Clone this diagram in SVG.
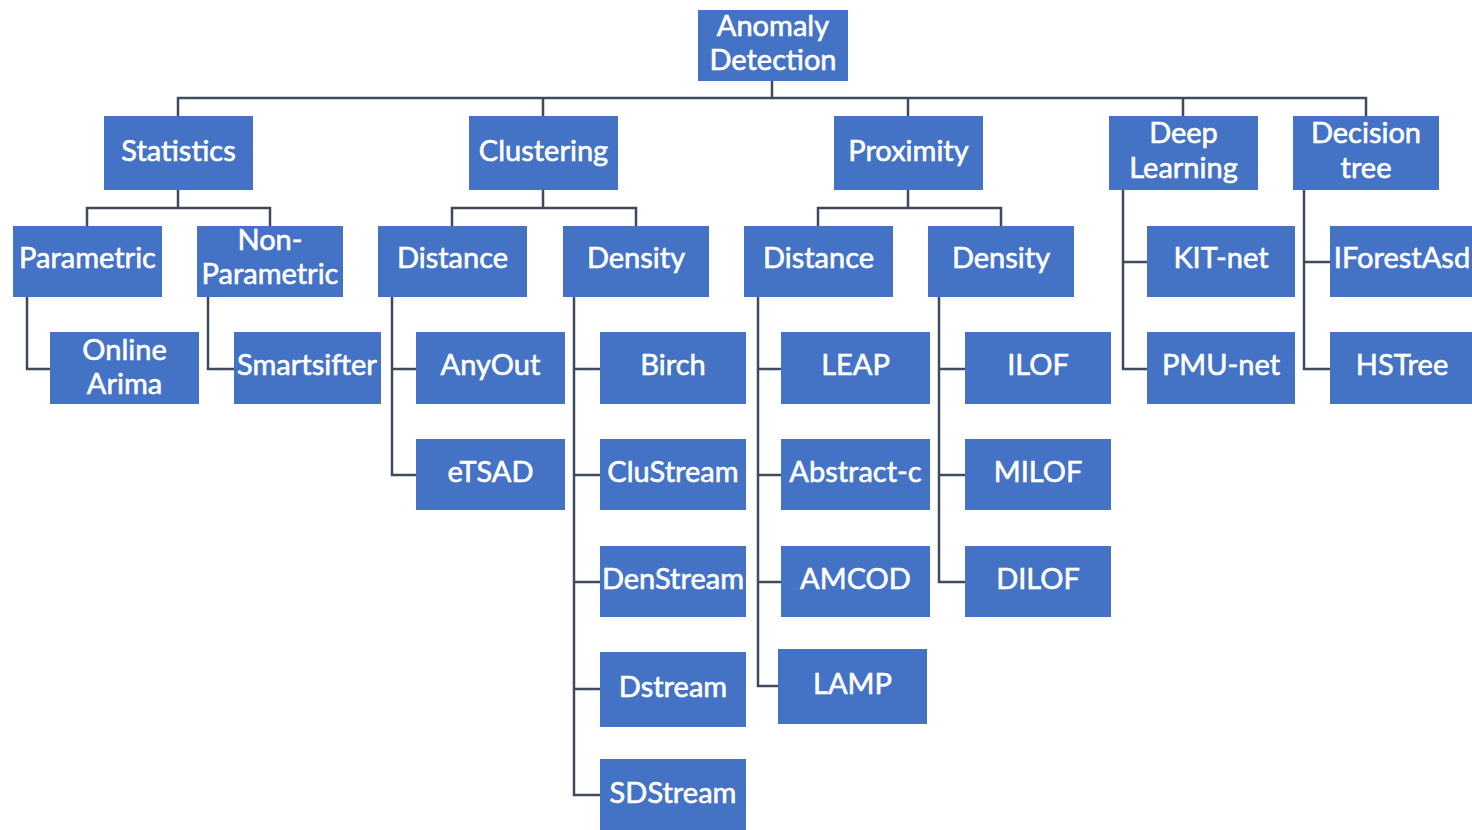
<svg xmlns="http://www.w3.org/2000/svg" width="1472" height="830" viewBox="0 0 1472 830">
<style>
.n rect{fill:#4472C4;}
.n text{fill:#FFFFFF;stroke:#FFFFFF;stroke-width:0.6;font-family:Lato,"Open Sans","Liberation Sans",sans-serif;font-size:29px;text-anchor:middle;}
.c path{fill:none;stroke:#3E4A5E;stroke-width:2.5;}
</style>
<rect width="1472" height="830" fill="#FFFFFF"/>
<g class="c" id="connectors">
<path d="M772,81 V98 M178,116 V98 H1366 V116 M543,98 V116 M908,98 V116 M1183,98 V116"/>
<path d="M178,190 V208 M87,226 V208 H270 V226"/>
<path d="M543,190 V208 M452,226 V208 H636 V226"/>
<path d="M908,190 V208 M818,226 V208 H1001 V226"/>
<path d="M27,297 V369 H50"/>
<path d="M208,297 V369 H234"/>
<path d="M392,297 V475 H416 M392,369 H416"/>
<path d="M574,297 V795 H600 M574,369 H600 M574,475 H600 M574,582 H600 M574,689 H600"/>
<path d="M758,297 V686 H778 M758,369 H781 M758,475 H781 M758,582 H781"/>
<path d="M939,297 V582 H965 M939,369 H965 M939,475 H965"/>
<path d="M1123,190 V369 H1147 M1123,262 H1147"/>
<path d="M1304,190 V369 H1330 M1304,262 H1330"/>
</g>
<g class="n" id="anomaly-detection"><rect x="698" y="10" width="150" height="71"/><text x="773" y="36">Anomaly</text><text x="773" y="70">Detection</text></g>
<g class="n" id="statistics"><rect x="104" y="116" width="149" height="74"/><text x="178.5" y="161">Statistics</text></g>
<g class="n" id="clustering"><rect x="469" y="116" width="149" height="74"/><text x="543.5" y="161">Clustering</text></g>
<g class="n" id="proximity"><rect x="834" y="116" width="149" height="74"/><text x="908.5" y="161">Proximity</text></g>
<g class="n" id="deep-learning"><rect x="1109" y="116" width="149" height="74"/><text x="1183.5" y="143">Deep</text><text x="1183.5" y="178">Learning</text></g>
<g class="n" id="decision-tree"><rect x="1293" y="116" width="146" height="74"/><text x="1366" y="143">Decision</text><text x="1366" y="178">tree</text></g>
<g class="n" id="parametric"><rect x="13" y="226" width="149" height="71"/><text x="87.5" y="268">Parametric</text></g>
<g class="n" id="non-parametric"><rect x="197" y="226" width="146" height="71"/><text x="270" y="250">Non-</text><text x="270" y="284">Parametric</text></g>
<g class="n" id="clustering-distance"><rect x="378" y="226" width="149" height="71"/><text x="452.5" y="268">Distance</text></g>
<g class="n" id="clustering-density"><rect x="563" y="226" width="146" height="71"/><text x="636" y="268">Density</text></g>
<g class="n" id="proximity-distance"><rect x="744" y="226" width="149" height="71"/><text x="818.5" y="268">Distance</text></g>
<g class="n" id="proximity-density"><rect x="928" y="226" width="146" height="71"/><text x="1001" y="268">Density</text></g>
<g class="n" id="kit-net"><rect x="1147" y="226" width="148" height="71"/><text x="1221" y="268">KIT-net</text></g>
<g class="n" id="iforestasd"><rect x="1330" y="226" width="149" height="71"/><text x="1402" y="268">IForestAsd</text></g>
<g class="n" id="online-arima"><rect x="50" y="332" width="149" height="72"/><text x="124.5" y="360">Online</text><text x="124.5" y="394">Arima</text></g>
<g class="n" id="smartsifter"><rect x="234" y="332" width="147" height="72"/><text x="307" y="375">Smartsifter</text></g>
<g class="n" id="anyout"><rect x="416" y="332" width="149" height="72"/><text x="490.5" y="375">AnyOut</text></g>
<g class="n" id="birch"><rect x="600" y="332" width="146" height="72"/><text x="673" y="375">Birch</text></g>
<g class="n" id="leap"><rect x="781" y="332" width="149" height="72"/><text x="855.5" y="375">LEAP</text></g>
<g class="n" id="ilof"><rect x="965" y="332" width="146" height="72"/><text x="1038" y="375">ILOF</text></g>
<g class="n" id="pmu-net"><rect x="1147" y="332" width="148" height="72"/><text x="1221" y="375">PMU-net</text></g>
<g class="n" id="hstree"><rect x="1330" y="332" width="149" height="72"/><text x="1402" y="375">HSTree</text></g>
<g class="n" id="etsad"><rect x="416" y="439" width="149" height="71"/><text x="490.5" y="482">eTSAD</text></g>
<g class="n" id="clustream"><rect x="600" y="439" width="146" height="71"/><text x="673" y="482">CluStream</text></g>
<g class="n" id="abstract-c"><rect x="781" y="439" width="149" height="71"/><text x="855.5" y="482">Abstract-c</text></g>
<g class="n" id="milof"><rect x="965" y="439" width="146" height="71"/><text x="1038" y="482">MILOF</text></g>
<g class="n" id="denstream"><rect x="600" y="546" width="146" height="71"/><text x="673" y="589">DenStream</text></g>
<g class="n" id="amcod"><rect x="781" y="546" width="149" height="71"/><text x="855.5" y="589">AMCOD</text></g>
<g class="n" id="dilof"><rect x="965" y="546" width="146" height="71"/><text x="1038" y="589">DILOF</text></g>
<g class="n" id="dstream"><rect x="600" y="652" width="146" height="75"/><text x="673" y="697">Dstream</text></g>
<g class="n" id="lamp"><rect x="778" y="649" width="149" height="75"/><text x="852.5" y="694">LAMP</text></g>
<g class="n" id="sdstream"><rect x="600" y="759" width="146" height="72"/><text x="673" y="803">SDStream</text></g>
</svg>
